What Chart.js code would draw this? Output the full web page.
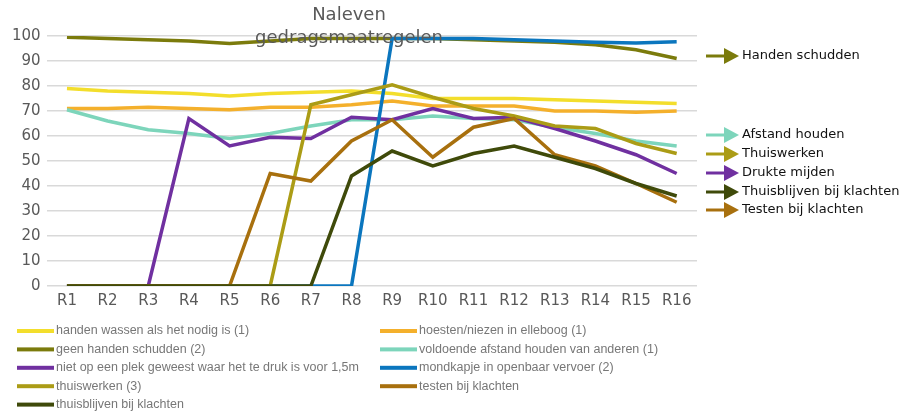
<!DOCTYPE html>
<html>
<head>
<meta charset="utf-8">
<script src="https://cdn.jsdelivr.net/npm/chart.js@4"></script>
<style>
  html, body { margin: 0; padding: 0; background: #fff; }
  #wrap { width: 904px; height: 412px; position: relative; }
</style>
</head>
<body>
<div id="wrap"><canvas id="chart" width="904" height="412"></canvas></div>
<script>
const rondes = ['R1','R2','R3','R4','R5','R6','R7','R8','R9','R10','R11','R12','R13','R14','R15','R16'];

const handenWassen   = [79, 78, 77.5, 77, 76, 77, 77.5, 78, 77, 75, 75, 75, 74.5, 74, 73.5, 73];
const hoesten        = [71, 71, 71.5, 71, 70.5, 71.5, 71.5, 72.5, 74, 72, 72, 72, 70, 70, 69.5, 70];
const handenSchudden = [99.5, 99, 98.5, 98, 97, 98, 99, 99, 99, 99, 98.5, 98, 97.5, 96.5, 94.5, 91];
const afstand        = [70.5, 66, 62.5, 61, 59, 61, 64, 66.5, 66.5, 68, 67, 66.5, 63.5, 61, 58, 56];
const drukte         = [0, 0, 0, 67, 56, 59.5, 59, 67.5, 66.5, 71, 67, 67.5, 63, 58, 52.5, 45];
const mondkapje      = [0, 0, 0, 0, 0, 0, 0, 0, 99, 99, 99, 98.5, 98, 97.5, 97.2, 97.7];
const thuiswerken    = [0, 0, 0, 0, 0, 0, 72.5, 76.5, 80.5, 75.5, 71, 68, 64, 63, 57, 53];
const testen         = [0, 0, 0, 0, 0, 45, 42, 58, 66.5, 51.5, 63.5, 67, 52.5, 48, 41, 33.5];
const thuisblijven   = [0, 0, 0, 0, 0, 0, 0, 44, 54, 48, 53, 56, 51.5, 47, 41, 36];

const reeksNamen = [
    'handen wassen als het nodig is (1)',
    'hoesten/niezen in elleboog (1)',
    'geen handen schudden (2)',
    'voldoende afstand houden van anderen (1)',
    'niet op een plek geweest waar het te druk is voor 1,5m',
    'mondkapje in openbaar vervoer (2)',
    'thuiswerken (3)',
    'testen bij klachten',
    'thuisblijven bij klachten'
];
const reeksKleuren = ['#f3de2c', '#f4b02c', '#7b7b0c', '#7dd5bb', '#7030a0', '#0b76be', '#ab9c16', '#a8700e', '#3f4a0a'];
const reeksData = [handenWassen, hoesten, handenSchudden, afstand, drukte, mondkapje, thuiswerken, testen, thuisblijven];

// labels met pijltjes rechts van de grafiek
const pijlLabels = [
    { tekst: 'Handen schudden', kleur: '#7b7b0c', y: 56 },
    { tekst: 'Afstand houden', kleur: '#7dd5bb', y: 135 },
    { tekst: 'Thuiswerken', kleur: '#ab9c16', y: 154 },
    { tekst: 'Drukte mijden', kleur: '#7030a0', y: 173 },
    { tekst: 'Thuisblijven bij klachten', kleur: '#3f4a0a', y: 192 },
    { tekst: 'Testen bij klachten', kleur: '#a8700e', y: 210 }
];

const extraTekst = {
    id: 'extraTekst',
    afterDraw(chart) {
        const ctx = chart.ctx;
        ctx.save();

        // titel
        ctx.fillStyle = '#595959';
        ctx.font = '18px "DejaVu Sans"';
        ctx.textAlign = 'center';
        ctx.textBaseline = 'middle';
        ctx.fillText('Naleven', 349, 15);
        ctx.fillText('gedragsmaatregelen', 349, 38);

        // pijlen met tekst
        ctx.textAlign = 'left';
        ctx.font = '13px "DejaVu Sans"';
        pijlLabels.forEach(p => {
            ctx.strokeStyle = p.kleur;
            ctx.fillStyle = p.kleur;
            ctx.lineWidth = 3;
            ctx.beginPath();
            ctx.moveTo(706, p.y);
            ctx.lineTo(726, p.y);
            ctx.stroke();
            ctx.beginPath();
            ctx.moveTo(724, p.y - 8);
            ctx.lineTo(739, p.y);
            ctx.lineTo(724, p.y + 8);
            ctx.closePath();
            ctx.fill();
            ctx.fillStyle = '#111';
            ctx.fillText(p.tekst, 742, p.y);
        });

        // legenda onderaan, twee kolommen
        ctx.font = '12.5px "Liberation Sans"';
        ctx.textBaseline = 'middle';
        chart.data.datasets.forEach((ds, i) => {
            const kol = i % 2;
            const rij = Math.floor(i / 2);
            const x = kol === 0 ? 17 : 380;
            const y = 331 + rij * 18.4;
            ctx.fillStyle = ds.borderColor;
            ctx.fillRect(x, y - 2, 37, 4);
            ctx.fillStyle = '#777';
            ctx.fillText(ds.label, x + 39, y);
        });

        ctx.restore();
    }
};

new Chart(document.getElementById('chart'), {
    type: 'line',
    data: {
        labels: rondes,
        datasets: reeksData.map((d, i) => ({
            label: reeksNamen[i],
            data: d,
            borderColor: reeksKleuren[i],
            backgroundColor: reeksKleuren[i],
            borderWidth: 3.5,
            pointRadius: 0,
            tension: 0,
            fill: false,
            order: reeksData.length - i
        }))
    },
    options: {
        responsive: false,
        animation: false,
        layout: { padding: { top: 36, right: 207, bottom: 96, left: 6 } },
        plugins: {
            legend: { display: false },
            title: { display: false },
            tooltip: { enabled: false }
        },
        scales: {
            x: {
                offset: true,
                grid: { display: false, drawTicks: false },
                border: { display: false },
                ticks: { color: '#595959', font: { family: 'DejaVu Sans', size: 15 }, padding: 6, maxRotation: 0 }
            },
            y: {
                min: 0,
                max: 100,
                ticks: { stepSize: 10, color: '#595959', font: { family: 'DejaVu Sans', size: 15 }, padding: 6 },
                grid: { color: '#d9d9d9', lineWidth: 1.5, drawTicks: false },
                border: { display: false }
            }
        }
    },
    plugins: [extraTekst]
});
</script>
</body>
</html>
